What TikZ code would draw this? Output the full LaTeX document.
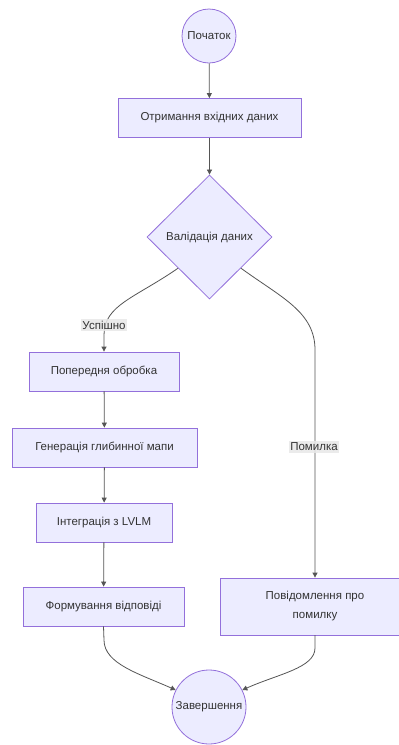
\documentclass[tikz,border=0pt]{standalone}
\usepackage{fontspec}
\setmainfont{Liberation Sans}
\usetikzlibrary{shapes.geometric,arrows.meta}
\definecolor{nodefill}{HTML}{ECECFF}
\definecolor{nodeline}{HTML}{9370DB}
\definecolor{ink}{HTML}{333333}
\definecolor{edge}{HTML}{555555}
\definecolor{tagbg}{HTML}{E8E8E8}
\tikzset{
  base/.style={draw=nodeline, fill=nodefill, line width=0.8pt, text=ink, font=\fontsize{11.5}{19}\selectfont, align=center},
  procbox/.style={base, rectangle, minimum height=39pt, inner sep=0pt},
  terminal/.style={base, circle, inner sep=0pt},
  decision/.style={base, diamond, minimum width=125pt, minimum height=124pt, inner sep=0pt},
  flow/.style={draw=edge, line width=0.8pt, -{Triangle[length=5pt,width=5pt]}},
  tag/.style={fill=tagbg, fill opacity=0.85, text opacity=1, text=ink, inner sep=1.5pt, font=\fontsize{11.5}{13}\selectfont}
}
\begin{document}
\begin{tikzpicture}[x=1pt,y=-1pt]
\useasboundingbox (0,0) rectangle (399,745);
\clip (0,0) rectangle (399,745);
\fill[white] (0,0) rectangle (399,745);

% nodes
\node[terminal, minimum size=54pt] (start) at (209,36) {Початок};
\node[procbox, minimum width=183pt] (recv) at (209.5,118) {Отримання вхідних даних};
\node[decision] (valid) at (209.5,237) {Валідація даних};
\node[procbox, minimum width=150pt] (pre) at (104,371.5) {Попередня обробка};
\node[procbox, minimum width=185pt] (gen) at (104.5,447.5) {Генерація глибинної мапи};
\node[procbox, minimum width=136pt] (integ) at (104,522.5) {Інтеграція з LVLM};
\node[procbox, minimum width=161pt] (form) at (103.5,606.5) {Формування відповіді};
\node[procbox, minimum width=190pt, minimum height=57pt] (err) at (315,606.5) {Повідомлення про\\помилку};
\node[terminal, minimum size=74pt] (fin) at (209,707) {Завершення};

% straight connectors
\draw[flow] (start) -- (recv);
\draw[flow] (recv) -- (valid);
\draw[flow] (pre) -- (gen);
\draw[flow] (gen) -- (integ);
\draw[flow] (integ) -- (form);

% branches out of the decision
\draw[flow] (valid.south west) .. controls (135,298) and (104,305) .. (104,335) -- (pre.north);
\draw[flow] (valid.south east) .. controls (282,298) and (315,312) .. (315,350) -- (err.north);
\node[tag] (ok) at (104,325) {Успішно};
\node[tag] (fail) at (314,447) {Помилка};

% converging into the end
\draw[flow] (form.south) -- (104,640) .. controls (104,664) and (140,674) .. (fin.153);
\draw[flow] (315,635) -- (315,648) .. controls (315,668) and (278,674) .. (fin.27);
\end{tikzpicture}
\end{document}
